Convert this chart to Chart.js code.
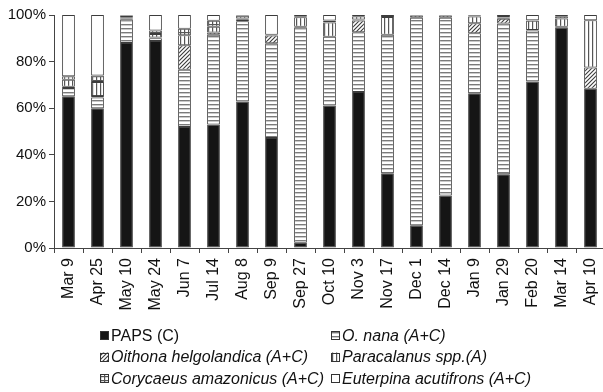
<!DOCTYPE html>
<html>
<head>
<meta charset="utf-8">
<script src="https://cdn.jsdelivr.net/npm/chart.js@4/dist/chart.umd.min.js"></script>
<style>
  html, body { margin: 0; padding: 0; background: #fff; overflow: hidden; }
  #wrap { width: 620px; height: 392px; }
</style>
</head>
<body>
<div id="wrap"><canvas id="c" width="620" height="392"></canvas></div>
<script>
// Sampling dates
const dates = ["Mar 9", "Apr 25", "May 10", "May 24", "Jun 7", "Jul 14", "Aug 8", "Sep 9", "Sep 27",
  "Oct 10", "Nov 3", "Nov 17", "Dec 1", "Dec 14", "Jan 9", "Jan 29", "Feb 20", "Mar 14", "Apr 10"];

// Relative abundance (%) of each group, stacked bottom to top
const paps        = [65.1, 60.0, 88.0, 88.8, 51.9, 53.0, 62.9, 47.2,  2.2, 61.2, 66.9, 32.1,  9.6, 22.5, 66.4, 31.6, 71.5, 94.5, 68.3];
const oNana       = [ 3.6,  4.6, 10.2,  1.2, 24.6, 38.5, 34.4, 40.7, 92.5, 29.5, 25.7, 59.4, 89.2, 76.3, 25.8, 64.8, 21.8,  0.5,  0.0];
const oithona     = [ 0.5,  0.6,  0.3,  0.3, 10.5,  1.0,  0.7,  3.3,  0.3,  0.0,  5.0,  0.0,  1.0,  1.0,  4.3,  2.0,  0.3,  0.0,  9.2];
const paracalanus = [ 3.0,  6.0,  0.5,  1.5,  4.3,  2.5,  0.5,  0.3,  4.0,  6.1,  0.5,  7.6,  0.0,  0.0,  2.9,  0.5,  3.9,  3.5, 20.2];
const corycaeus   = [ 1.5,  2.8,  0.8,  1.6,  2.8,  2.5,  1.3,  0.0,  0.5,  0.8,  1.4,  0.9,  0.0,  0.2,  0.3,  0.7,  0.3,  1.0,  0.0];
const euterpina   = [26.3, 26.0,  0.2,  6.6,  5.9,  2.5,  0.2,  8.5,  0.5,  2.4,  0.5,  0.0,  0.2,  0.0,  0.3,  0.4,  2.2,  0.5,  2.3];

const yTicks = [0, 20, 40, 60, 80, 100];

// Fill patterns
function pattern(w, h, draw) {
  const c = document.createElement('canvas');
  c.width = w; c.height = h;
  const g = c.getContext('2d');
  g.fillStyle = '#fff';
  g.fillRect(0, 0, w, h);
  draw(g);
  return g.createPattern(c, 'repeat');
}
const solidBlack = '#151515';
const hStripes = pattern(4, 4, g => { g.fillStyle = '#7a7a7a'; g.fillRect(0, 0, 4, 1.4); });
const diagonal = pattern(4, 4, g => {
  g.strokeStyle = '#3a3a3a'; g.lineWidth = 1.1;
  g.beginPath();
  g.moveTo(-1, 5); g.lineTo(5, -1);
  g.moveTo(-1, 1); g.lineTo(1, -1);
  g.moveTo(3, 5); g.lineTo(5, 3);
  g.stroke();
});
const vStripes = pattern(4, 4, g => { g.fillStyle = '#555'; g.fillRect(0, 0, 1.2, 4); });
const grid = pattern(4, 4, g => { g.fillStyle = '#555'; g.fillRect(0, 0, 1.2, 4); g.fillRect(0, 0, 4, 1.2); });
const plain = '#ffffff';

const series = [
  { label: 'PAPS (C)', data: paps, fill: solidBlack, italic: false },
  { label: 'O. nana (A+C)', data: oNana, fill: hStripes, italic: true },
  { label: 'Oithona helgolandica (A+C)', data: oithona, fill: diagonal, italic: true },
  { label: 'Paracalanus spp.(A)', data: paracalanus, fill: vStripes, italic: true },
  { label: 'Corycaeus amazonicus (A+C)', data: corycaeus, fill: grid, italic: true },
  { label: 'Euterpina acutifrons (A+C)', data: euterpina, fill: plain, italic: true }
];

// Two-column legend under the axis labels
const legendPlugin = {
  id: 'pairLegend',
  afterDraw(chart) {
    const ctx = chart.ctx;
    ctx.save();
    const colX = [100, 331];
    const rowY = [335.5, 357, 378.5];
    series.forEach((s, k) => {
      const x = colX[k % 2];
      const y = rowY[Math.floor(k / 2)];
      const box = 9;
      ctx.fillStyle = s.fill;
      ctx.fillRect(x, y - box / 2, box, box);
      ctx.strokeStyle = '#333';
      ctx.lineWidth = 1;
      ctx.strokeRect(x + 0.5, Math.round(y - box / 2) + 0.5, box - 1, box - 1);
      ctx.fillStyle = '#111';
      ctx.font = (s.italic ? 'italic ' : '') + "16px 'Liberation Sans', Arial, sans-serif";
      ctx.textBaseline = 'middle';
      ctx.textAlign = 'left';
      ctx.fillText(s.label, x + 11, y + 1);
    });
    ctx.restore();
  }
};

new Chart(document.getElementById('c'), {
  type: 'bar',
  data: {
    labels: dates,
    datasets: series.map(s => ({
      label: s.label,
      data: s.data,
      backgroundColor: s.fill,
      borderColor: '#3c3c3c',
      borderWidth: 1,
      borderSkipped: false,
      categoryPercentage: 1,
      barPercentage: 0.44
    }))
  },
  options: {
    responsive: false,
    animation: false,
    devicePixelRatio: 1,
    layout: { padding: { top: 15, right: 15, bottom: 0, left: 0 } },
    plugins: { legend: { display: false }, tooltip: { enabled: false } },
    scales: {
      x: {
        stacked: true,
        grid: { display: true, drawOnChartArea: false, drawTicks: true, tickLength: 5, color: '#444', offset: true },
        border: { display: true, color: '#444', width: 1 },
        ticks: {
          color: '#111',
          font: { family: "'Liberation Sans', Arial, sans-serif", size: 16 },
          minRotation: 90, maxRotation: 90, autoSkip: false, padding: 5
        },
        afterFit(scale) { scale.height = 144; }
      },
      y: {
        stacked: true,
        min: 0, max: 100,
        afterBuildTicks(scale) { scale.ticks = yTicks.map(v => ({ value: v })); },
        grid: { display: true, drawOnChartArea: false, drawTicks: true, tickLength: 5, color: '#444' },
        border: { display: true, color: '#444', width: 1 },
        ticks: {
          color: '#111',
          font: { family: "'Liberation Sans', Arial, sans-serif", size: 15 },
          padding: 3,
          callback: v => v + '%'
        },
        afterFit(scale) { scale.width = 54; }
      }
    }
  },
  plugins: [legendPlugin]
});
</script>
</body>
</html>
